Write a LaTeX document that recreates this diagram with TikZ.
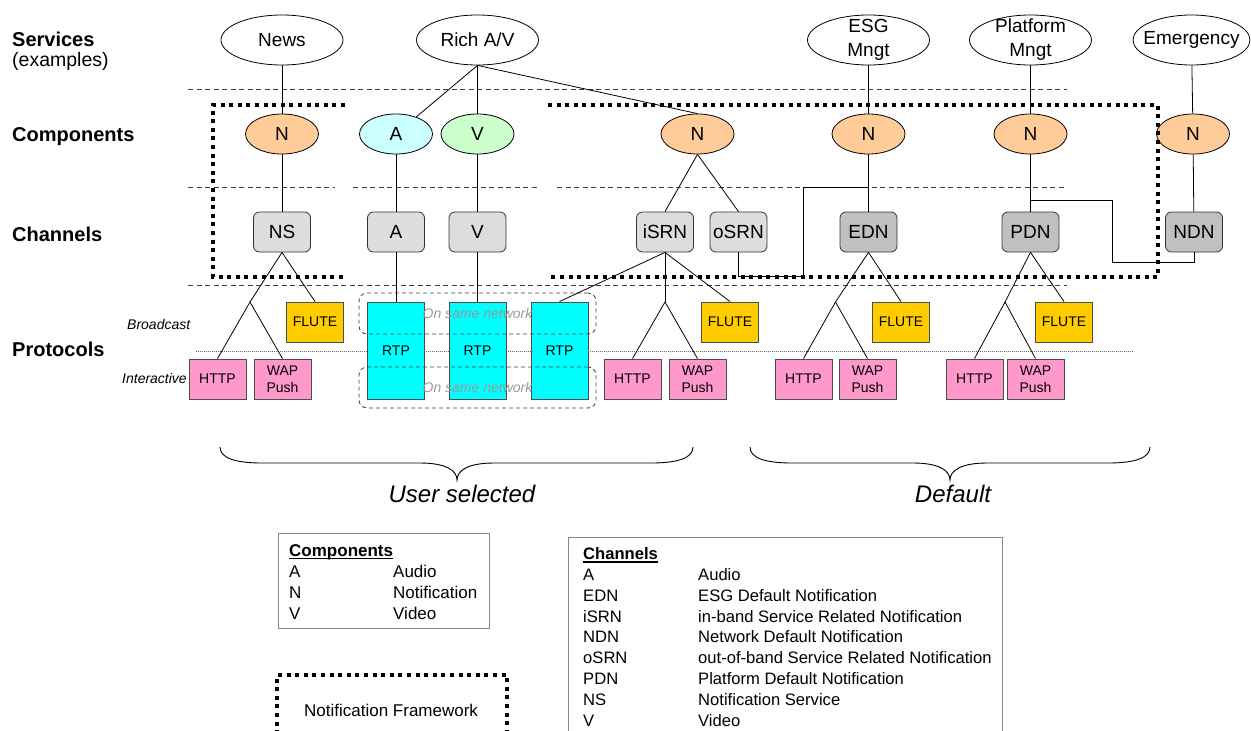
\documentclass[tikz,border=0pt]{standalone}
\usepackage{fontspec}
\setmainfont{Liberation Sans}
\usetikzlibrary{shapes.geometric}
\definecolor{nOrange}{HTML}{FFCC99}
\definecolor{aCyan}{HTML}{CCFFFF}
\definecolor{vGreen}{HTML}{CCFFCC}
\definecolor{chLight}{HTML}{DDDDDD}
\definecolor{chDark}{HTML}{C0C0C0}
\definecolor{fluteY}{HTML}{FFCC00}
\definecolor{pinkP}{HTML}{FF99CC}
\definecolor{rtpC}{HTML}{00FFFF}
\definecolor{netGray}{HTML}{999999}
\definecolor{legBorder}{HTML}{888888}
\begin{document}
\begin{tikzpicture}[x=1pt,y=-1pt,
  svc/.style={ellipse, draw, line width=0.8pt, fill=white, minimum width=122pt, minimum height=50pt, inner sep=0pt},
  svctxt/.style={font=\fontsize{19}{24}\selectfont, align=center, inner sep=0pt},
  comp/.style={ellipse, draw, line width=0.8pt, minimum width=73pt, minimum height=40pt, inner sep=0pt, font=\fontsize{19}{22}\selectfont},
  chan/.style={rectangle, rounded corners=6pt, draw=black!80, line width=0.8pt, minimum width=57pt, minimum height=40pt, inner sep=0pt, font=\fontsize{19}{22}\selectfont},
  proto/.style={rectangle, draw=black!70, line width=0.9pt, minimum width=57pt, minimum height=40pt, inner sep=0pt, font=\fontsize{14}{17}\selectfont, align=center},
  rtpbox/.style={proto, fill=rtpC, minimum height=97pt},
  conn/.style={line width=0.8pt},
  sepline/.style={line width=0.8pt, black!75, dash pattern=on 5pt off 3.5pt},
  nfframe/.style={line width=4pt, dash pattern=on 4pt off 4.6pt},
  samenet/.style={draw=black!75, line width=0.8pt, dash pattern=on 4pt off 3pt, rounded corners=8pt, minimum width=237pt, minimum height=41pt, inner sep=0pt, text=netGray, font=\fontsize{14}{17}\selectfont\itshape},
  lbl/.style={anchor=base west, inner sep=0pt, font=\fontsize{20}{22}\selectfont\bfseries},
  lblplain/.style={anchor=base west, inner sep=0pt, font=\fontsize{19.5}{22}\selectfont},
  sublbl/.style={anchor=base west, inner sep=0pt, font=\fontsize{14}{17}\selectfont\itshape},
  legtxt/.style={anchor=base west, inner sep=0pt, font=\fontsize{17}{20}\selectfont},
  legtxtb/.style={anchor=base west, inner sep=0pt, font=\fontsize{16.6}{20}\selectfont},
  bracelbl/.style={anchor=base, inner sep=0pt, font=\fontsize{24}{28}\selectfont\itshape}
]
\useasboundingbox (0,0) rectangle (1251,731);

% separators
\draw[sepline] (188,89) -- (1067,89);
\draw[sepline] (188,187) -- (335,187);
\draw[sepline] (353,187) -- (540,187);
\draw[sepline] (557,187) -- (1067,187);
\draw[sepline] (188,285) -- (1067,285);
\draw[black!60, line width=0.6pt, dash pattern=on 1pt off 1pt] (196,351) -- (1133,351);

% left labels
\node[lbl] (tServ) at (12,46.5) {Services};
\node[lblplain] (tEx) at (12,66.5) {(examples)};
\node[lbl] (tComp) at (12,141.5) {Components};
\node[lbl] (tChan) at (12,241.5) {Channels};
\node[lbl] (tProt) at (12,356.5) {Protocols};
\node[sublbl] (tBroad) at (127,329) {Broadcast};
\node[sublbl] (tInter) at (122,383) {Interactive};

% services
\node[svc, label={[svctxt]center:News}] (sNews) at (282,40) {};
\node[svc, label={[svctxt]center:Rich A/V}] (sRich) at (477.5,40) {};
\node[svc, label={[svctxt]center:ESG\\Mngt}] (sESG) at (868.5,40) {};
\node[svc, label={[svctxt]center:Platform\\Mngt}] (sPlat) at (1030.5,40) {};
\node[svc, minimum width=117pt, label={[svctxt]center:Emergency}] (sEmer) at (1191.5,40) {};

% components
\node[comp, fill=nOrange] (cN1) at (282,134) {N};
\node[comp, fill=aCyan] (cA) at (396,134) {A};
\node[comp, fill=vGreen] (cV) at (477.5,134) {V};
\node[comp, fill=nOrange] (cN2) at (697.5,134) {N};
\node[comp, fill=nOrange] (cN3) at (868.5,134) {N};
\node[comp, fill=nOrange] (cN4) at (1030.5,134) {N};
\node[comp, fill=nOrange] (cN5) at (1193,134) {N};

% channels
\node[chan, fill=chLight] (chNS) at (282,232) {NS};
\node[chan, fill=chLight] (chA) at (396,232) {A};
\node[chan, fill=chLight] (chV) at (477.5,232) {V};
\node[chan, fill=chLight] (chI) at (665,232) {iSRN};
\node[chan, fill=chLight] (chO) at (738.5,232) {oSRN};
\node[chan, fill=chDark] (chE) at (868.5,232) {EDN};
\node[chan, fill=chDark] (chP) at (1030.5,232) {PDN};
\node[chan, fill=chDark] (chN) at (1194,232) {NDN};

% protocols
\node[proto, fill=fluteY] (flute1) at (315,322) {FLUTE};
\node[proto, fill=fluteY] (flute2) at (730,322) {FLUTE};
\node[proto, fill=fluteY] (flute3) at (901,322) {FLUTE};
\node[proto, fill=fluteY] (flute4) at (1064,322) {FLUTE};
\node[proto, fill=pinkP] (http1) at (217.5,379) {HTTP};
\node[proto, fill=pinkP] (wap1) at (282.5,379) {WAP\\Push};
\node[proto, fill=pinkP] (http2) at (632.5,379) {HTTP};
\node[proto, fill=pinkP] (wap2) at (697.5,379) {WAP\\Push};
\node[proto, fill=pinkP] (http3) at (803.5,379) {HTTP};
\node[proto, fill=pinkP] (wap3) at (867.5,379) {WAP\\Push};
\node[proto, fill=pinkP] (http4) at (974.5,379) {HTTP};
\node[proto, fill=pinkP] (wap4) at (1035.5,379) {WAP\\Push};
\node[rtpbox] (rtp1) at (396,350.5) {RTP};
\node[rtpbox] (rtp2) at (477.5,350.5) {RTP};
\node[rtpbox] (rtp3) at (559.5,350.5) {RTP};

\node[samenet] (net1) at (477.5,313.5) {On same network};
\node[samenet] (net2) at (477.5,387.5) {On same network};

% junctions
\coordinate (j1) at (250,302);
\coordinate (j2) at (665,302);
\coordinate (j3) at (835.5,302);
\coordinate (j4) at (1005,302);
\coordinate (eJoin) at (868.5,187);
\coordinate (pJoin) at (1030.5,200);

% connectors
\draw[conn] (sNews) -- (cN1);
\draw[conn] (cN1) -- (chNS);
\draw[conn] (sRich.south) -- (cA);
\draw[conn] (sRich) -- (cV);
\draw[conn] (sRich.south) -- (cN2.north);
\draw[conn] (cA) -- (chA);
\draw[conn] (chA) -- (rtp1);
\draw[conn] (cV) -- (chV);
\draw[conn] (chV) -- (rtp2);
\draw[conn] (cN2.south) -- (chI.north);
\draw[conn] (cN2.south) -- (chO.north);
\draw[conn] (sESG) -- (cN3);
\draw[conn] (cN3) -- (chE);
\draw[conn] (sPlat) -- (cN4);
\draw[conn] (cN4) -- (chP);
\draw[conn] (sEmer) -- (cN5);
\draw[conn] (cN5) -- (chN);
\draw[conn] (chO.south) |- (803,276) |- (eJoin);
\draw[conn] (pJoin) -| (1112,262) -| (chN.south);

\draw[conn] (chNS.south) -- (j1);
\draw[conn] (j1) -- (http1.north);
\draw[conn] (j1) -- (wap1.north);
\draw[conn] (chNS.south) -- (flute1.north);
\draw[conn] (chI.south) -- (j2);
\draw[conn] (j2) -- (http2.north);
\draw[conn] (j2) -- (wap2.north);
\draw[conn] (chI.south) -- (flute2.north);
\draw[conn] (chI.south) -- (rtp3.north);
\draw[conn] (chE.south) -- (j3);
\draw[conn] (j3) -- (http3.north);
\draw[conn] (j3) -- (wap3.north);
\draw[conn] (chE.south) -- (flute3.north);
\draw[conn] (chP.south) -- (j4);
\draw[conn] (j4) -- (http4.north);
\draw[conn] (j4) -- (wap4.north);
\draw[conn] (chP.south) -- (flute4.north);

% notification framework frames
\draw[nfframe] (345,105) -- (213,105) -- (213,277) -- (345,277);
\draw[nfframe] (548,105) -- (1158,105) -- (1158,277) -- (548,277);

% braces
\draw[line width=0.9pt] (220,447) .. controls (220,458) and (235,463) .. (262,463) -- (420,463)
  .. controls (445,463) and (457,470) .. (457,480) .. controls (457,470) and (469,463) .. (494,463)
  -- (651,463) .. controls (678,463) and (693,458) .. (693,447);
\draw[line width=0.9pt] (750,447) .. controls (750,458) and (765,463) .. (792,463) -- (913,463)
  .. controls (938,463) and (950,470) .. (950,480) .. controls (950,470) and (962,463) .. (987,463)
  -- (1108,463) .. controls (1135,463) and (1150,458) .. (1150,447);
\node[bracelbl] (tUser) at (462,502) {User selected};
\node[bracelbl] (tDef) at (953,502) {Default};

% components legend
\draw[legBorder, line width=1pt] (278,533) rectangle (489,628);
\node[legtxt, font=\fontsize{17}{20}\selectfont\bfseries] (lgCH) at (289,556) {Components};
\draw[line width=1.4pt] ([yshift=-2.5pt]lgCH.base west) -- ([yshift=-2.5pt]lgCH.base east);
\node[legtxt] (lgC1a) at (289,577) {A};
\node[legtxt] (lgC1b) at (393,577) {Audio};
\node[legtxt] (lgC2a) at (289,598) {N};
\node[legtxt] (lgC2b) at (393,598) {Notification};
\node[legtxt] (lgC3a) at (289,619) {V};
\node[legtxt] (lgC3b) at (393,619) {Video};

% channels legend
\draw[legBorder, line width=1pt] (568,537) rectangle (1002,760);
\node[legtxtb, font=\fontsize{16.6}{20}\selectfont\bfseries] (lgHH) at (583,559.5) {Channels};
\draw[line width=1.4pt] ([yshift=-2.5pt]lgHH.base west) -- ([yshift=-2.5pt]lgHH.base east);
\node[legtxtb] (lgH1a) at (583,580.5) {A};
\node[legtxtb] (lgH1b) at (698,580.5) {Audio};
\node[legtxtb] (lgH2a) at (583,601.3) {EDN};
\node[legtxtb] (lgH2b) at (698,601.3) {ESG Default Notification};
\node[legtxtb] (lgH3a) at (583,622.1) {iSRN};
\node[legtxtb] (lgH3b) at (698,622.1) {in-band Service Related Notification};
\node[legtxtb] (lgH4a) at (583,642.9) {NDN};
\node[legtxtb] (lgH4b) at (698,642.9) {Network Default Notification};
\node[legtxtb] (lgH5a) at (583,663.7) {oSRN};
\node[legtxtb] (lgH5b) at (698,663.7) {out-of-band Service Related Notification};
\node[legtxtb] (lgH6a) at (583,684.5) {PDN};
\node[legtxtb] (lgH6b) at (698,684.5) {Platform Default Notification};
\node[legtxtb] (lgH7a) at (583,705.3) {NS};
\node[legtxtb] (lgH7b) at (698,705.3) {Notification Service};
\node[legtxtb] (lgH8a) at (583,726.1) {V};
\node[legtxtb] (lgH8b) at (698,726.1) {Video};

% notification framework legend
\draw[nfframe] (277,760) -- (277,675) -- (507,675) -- (507,760);
\node[legtxt] (lgNF) at (304,716) {Notification Framework};
\end{tikzpicture}
\end{document}
